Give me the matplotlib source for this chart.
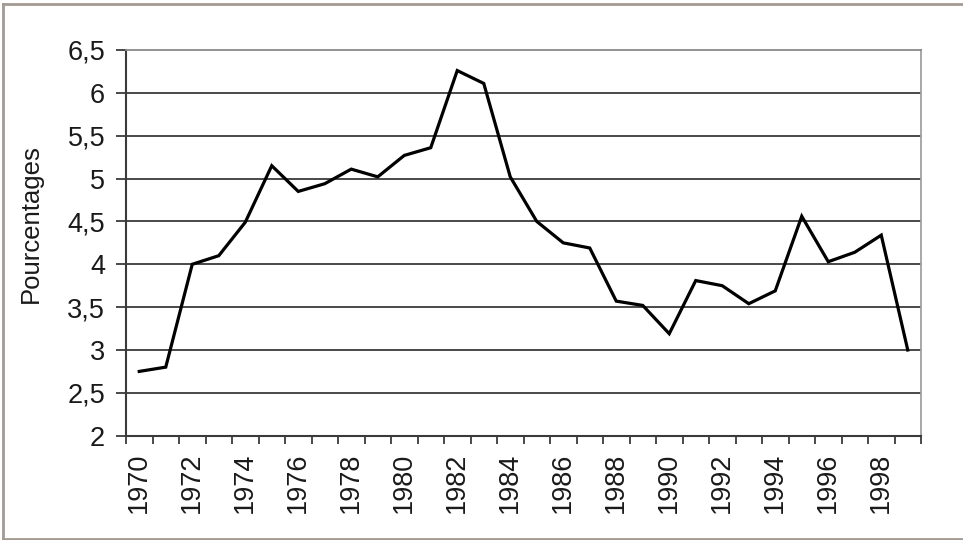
import numpy as np
import matplotlib.pyplot as plt
from matplotlib.lines import Line2D

plt.rcParams['font.family'] = ['Liberation Sans', 'DejaVu Sans']

years = list(range(1970, 2000))
values = [2.75, 2.80, 4.00, 4.10, 4.49, 5.15, 4.85, 4.94, 5.11, 5.02,
          5.27, 5.36, 6.26, 6.11, 5.02, 4.50, 4.25, 4.19, 3.57, 3.52,
          3.19, 3.81, 3.75, 3.54, 3.69, 4.56, 4.03, 4.14, 4.34, 3.00]
y_ticks = [2, 2.5, 3, 3.5, 4, 4.5, 5, 5.5, 6, 6.5]
y_labels = ['2', '2,5', '3', '3,5', '4', '4,5', '5', '5,5', '6', '6,5']

fig = plt.figure(figsize=(9.63, 5.4), dpi=100)
ax = fig.add_axes([126 / 963, 1 - 435.7 / 540, 795 / 963, 385.7 / 540])

x = np.arange(len(years))
ax.plot(x, values, color='black', lw=2.3, solid_joinstyle='miter', zorder=3)

ax.set_xlim(-0.5, len(years) - 0.5)
ax.set_ylim(2, 6.5)

# grid lines
for v in y_ticks[1:-1]:
    ax.axhline(v, color='#3a3a3a', lw=1.3, zorder=1)

fs = 19.5
ax.set_yticks(y_ticks)
ax.set_yticklabels(y_labels)
ax.tick_params(axis='y', direction='out', length=7, width=1.3, color='#3a3a3a',
               labelsize=fs, pad=8, labelcolor='#1a1a1a')

ax.set_xticks(np.arange(-0.5, len(years), 1.0))
ax.set_xticklabels([])
ax.tick_params(axis='x', which='major', direction='out', length=6, width=1.3,
               color='#3a3a3a')
ax.set_xticks(x[::2], minor=True)
ax.set_xticklabels([str(y) for y in years[::2]], minor=True, rotation=90)
ax.tick_params(axis='x', which='minor', length=0, labelsize=fs, pad=12,
               labelcolor='#1a1a1a')

ax.spines['left'].set_color('#3a3a3a')
ax.spines['left'].set_linewidth(1.5)
ax.spines['bottom'].set_color('#3a3a3a')
ax.spines['bottom'].set_linewidth(1.5)
ax.spines['top'].set_color('#8a8a8a')
ax.spines['top'].set_linewidth(1.3)
ax.spines['right'].set_color('#a0a0a0')
ax.spines['right'].set_linewidth(1.3)

ax.set_ylabel('Pourcentages', fontsize=18.5, color='#1a1a1a')
ax.yaxis.set_label_coords(-0.104, 0.551)

# outer frame
c = '#a39a92'
fig.add_artist(Line2D([3 / 963, 3 / 963], [1 - 4 / 540, 1 - 538.5 / 540], color=c, lw=2, transform=fig.transFigure))
fig.add_artist(Line2D([3 / 963, 1], [1 - 4 / 540, 1 - 4 / 540], color=c, lw=2, transform=fig.transFigure))
fig.add_artist(Line2D([3 / 963, 1], [1 - 538.5 / 540, 1 - 538.5 / 540], color=c, lw=2, transform=fig.transFigure))

fig.savefig('out.png', dpi=100)
